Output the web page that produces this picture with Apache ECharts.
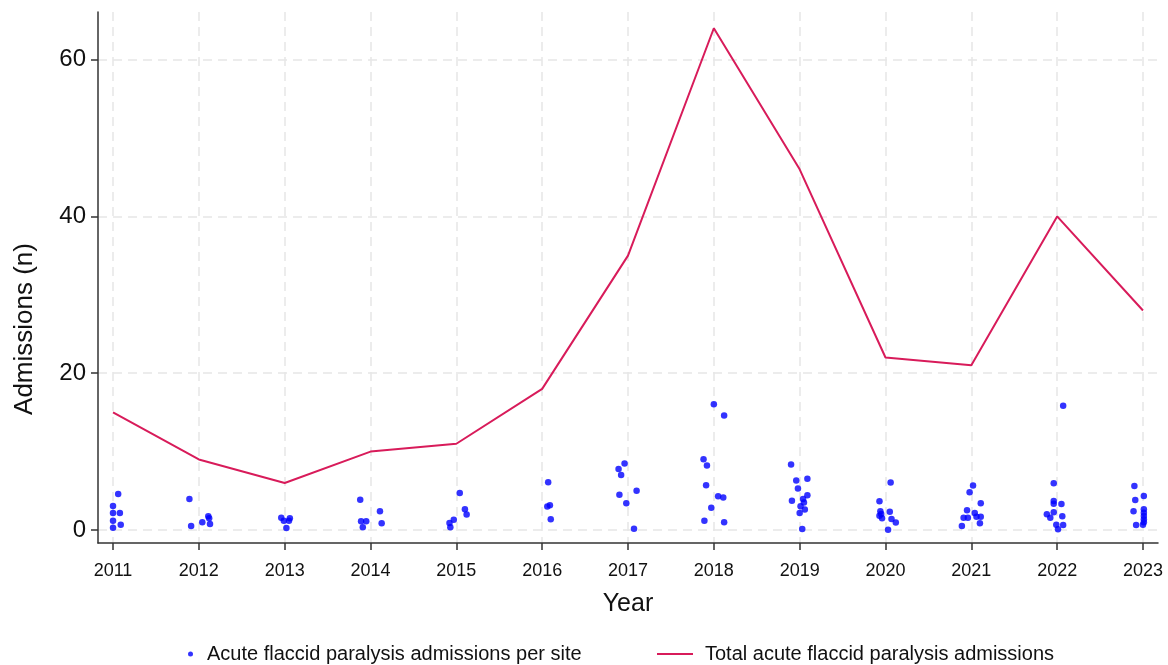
<!DOCTYPE html>
<html>
<head>
<meta charset="utf-8">
<script src="https://cdn.jsdelivr.net/npm/echarts@6/dist/echarts.min.js"></script>
<style>
html,body{margin:0;padding:0;background:#fff;}
#chart{width:1168px;height:665px;}
</style>
</head>
<body>
<div id="chart"></div>
<script>
// Tick labels / categories
const years = [2011,2012,2013,2014,2015,2016,2017,2018,2019,2020,2021,2022,2023];
const yTicks = [0,20,40,60];

// Total admissions per year (line)
const totalAdmissions = [15,9,6,10,11,18,35,64,46,22,21,40,28];

// Per-site admissions (scatter, horizontally jittered as in the source)
const siteX = [
  2011.06,2011.00,2011.00,2011.08,2011.00,2011.09,2011.00,
  2011.89,2011.91,2012.04,2012.11,2012.12,2012.13,
  2012.96,2012.99,2013.06,2013.05,2013.02,
  2013.88,2013.89,2013.95,2013.91,2014.11,2014.13,
  2015.04,2015.10,2015.12,2014.97,2014.92,2014.93,
  2016.07,2016.06,2016.09,2016.10,
  2016.96,2016.89,2016.92,2016.90,2017.10,2016.98,2017.07,
  2018.00,2018.12,2017.88,2017.92,2017.91,2018.05,2018.11,2017.97,2017.89,2018.12,
  2018.90,2018.96,2019.09,2018.98,2019.09,2018.91,2019.04,2019.05,2019.01,2019.06,2019.00,2019.03,
  2020.06,2019.93,2019.94,2020.05,2019.95,2019.93,2019.96,2020.07,2020.12,2020.03,
  2021.02,2020.98,2021.11,2020.95,2021.04,2020.91,2020.96,2021.06,2021.11,2021.10,2020.89,
  2022.07,2021.96,2021.96,2021.96,2022.05,2021.96,2021.88,2021.92,2022.06,2021.99,2022.07,2022.01,
  2022.90,2022.91,2023.01,2022.89,2023.01,2023.01,2023.01,2023.01,2023.01,2022.92,2023.00
];
const siteY = [
  4.6,3.07,2.17,2.17,1.19,0.68,0.3,
  3.96,0.51,0.98,1.75,1.5,0.77,
  1.57,1.19,1.49,1.19,0.26,
  3.87,1.11,1.11,0.34,2.39,0.85,
  4.72,2.64,1.96,1.32,0.89,0.34,
  6.09,2.98,3.15,1.36,
  8.47,7.79,7.02,4.51,5.02,3.41,0.17,
  16.05,14.6,9.03,8.21,5.7,4.3,4.13,2.85,1.19,0.98,
  8.34,6.3,6.55,5.28,4.43,3.74,3.96,3.49,3.02,2.6,2.17,0.13,
  6.05,3.66,2.39,2.34,2.04,1.83,1.49,1.4,0.94,0.04,
  5.66,4.81,3.41,2.51,2.17,1.57,1.57,1.7,1.7,0.85,0.51,
  15.84,5.96,3.7,3.36,3.32,2.26,2.0,1.57,1.75,0.68,0.64,0.09,
  5.62,3.83,4.34,2.39,2.64,2.21,1.79,1.36,0.98,0.64,0.68
];

const scatterName = 'Acute flaccid paralysis admissions per site';
const lineName = 'Total acute flaccid paralysis admissions';
const yName = 'Admissions (n)';

const chart = echarts.init(document.getElementById('chart'), null, {renderer:'canvas'});
const FONT = 'Liberation Sans, Arial, sans-serif';
const gridLine = {show:true, lineStyle:{color:'#e6e6e6', width:1.5, type:[9,6]}};

chart.setOption({
  backgroundColor:'#fff',
  animation:false,
  grid:{left:98, right:10, top:12, bottom:122, containLabel:false},
  graphic:[{
    type:'text', x:25, y:329, rotation:Math.PI/2,
    style:{text:yName, fontSize:26, fill:'#111', fontFamily:FONT, align:'center', verticalAlign:'middle'}
  }],
  xAxis:{
    type:'value', min:2010.825, max:2023.175,
    name:'Year', nameLocation:'middle', nameGap:49,
    nameTextStyle:{fontSize:25, color:'#111', fontFamily:FONT},
    axisLine:{show:true, onZero:false, lineStyle:{color:'#333', width:1.5}},
    axisTick:{show:true, length:7, customValues:years, lineStyle:{color:'#333', width:1.5}},
    axisLabel:{customValues:years, fontSize:18, color:'#111', fontFamily:FONT, margin:19, formatter:v=>String(Math.round(v))},
    splitLine:gridLine
  },
  yAxis:{
    type:'value', min:-1.66, max:66.07,
    axisLine:{show:true, onZero:false, lineStyle:{color:'#333', width:1.5}},
    axisTick:{show:true, length:7, customValues:yTicks, lineStyle:{color:'#333', width:1.5}},
    axisLabel:{customValues:yTicks, fontSize:24, color:'#111', fontFamily:FONT, margin:12, formatter:v=>String(Math.round(v))},
    splitLine:gridLine
  },
  legend:[
    {
      data:[{name:scatterName, icon:'circle'}],
      left:183, top:639, itemWidth:5, itemHeight:5,
      textStyle:{fontSize:20, color:'#111', fontFamily:FONT, padding:[0,0,0,9]}
    },
    {
      data:[{name:lineName, icon:'path://M0,0 L36,0 L36,2 L0,2 Z'}],
      left:652, top:639, itemWidth:36, itemHeight:2,
      textStyle:{fontSize:20, color:'#111', fontFamily:FONT, padding:[0,0,0,7]}
    }
  ],
  series:[
    {
      name:scatterName, type:'scatter',
      data:siteX.map((x,i)=>[x, siteY[i]]),
      symbol:'circle', symbolSize:6.5,
      itemStyle:{color:'#0000ff'},
      z:3
    },
    {
      name:lineName, type:'line',
      data:years.map((y,i)=>[y, totalAdmissions[i]]),
      showSymbol:false, symbol:'none',
      lineStyle:{color:'#d81b5a', width:2},
      itemStyle:{color:'#d81b5a'},
      z:2
    }
  ]
});
</script>
</body>
</html>
